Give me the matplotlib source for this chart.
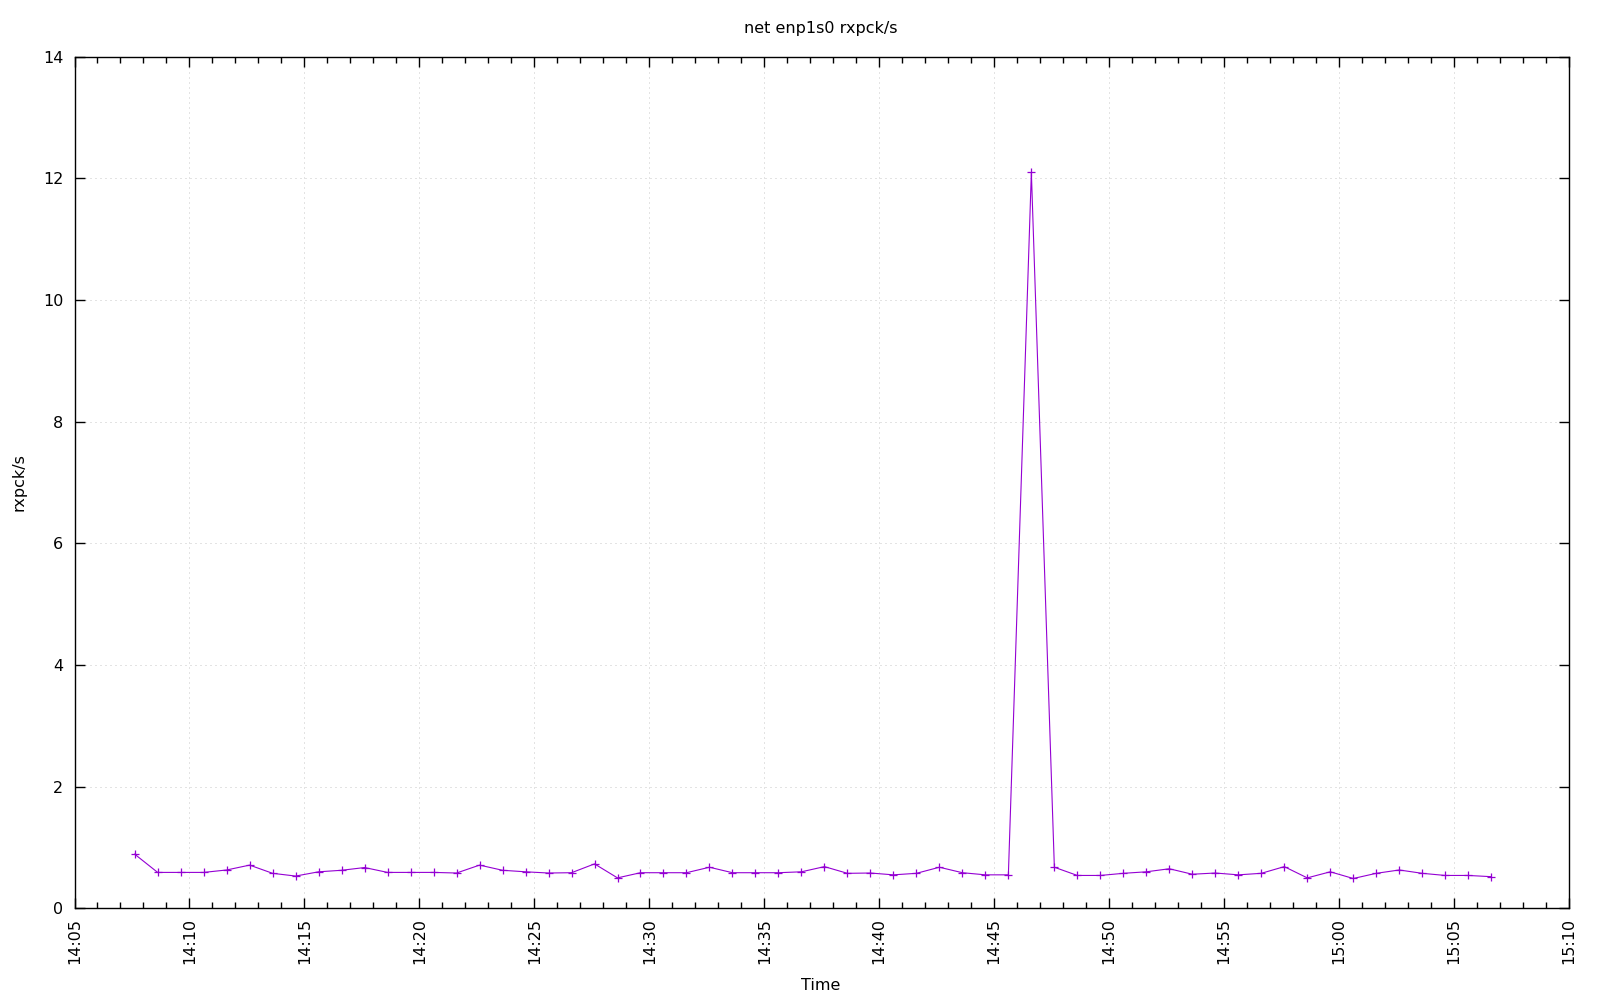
import matplotlib
matplotlib.use("Agg")
import matplotlib.pyplot as plt
import matplotlib.dates as mdates
import numpy as np
import pandas as pd

# ---- data ----
start_time = "2024-01-01 14:07:37"
n_points = 60
rxpck = [0.89, 0.59, 0.59, 0.59, 0.63, 0.71, 0.575, 0.53, 0.60, 0.625,
         0.67, 0.59, 0.59, 0.59, 0.58, 0.71, 0.625, 0.60, 0.58, 0.585,
         0.73, 0.50, 0.585, 0.585, 0.585, 0.675, 0.585, 0.585, 0.585, 0.60,
         0.685, 0.575, 0.58, 0.55, 0.575, 0.675, 0.585, 0.55, 0.55, 12.1,
         0.675, 0.54, 0.54, 0.575, 0.60, 0.65, 0.56, 0.58, 0.55, 0.575,
         0.685, 0.50, 0.60, 0.49, 0.575, 0.63, 0.575, 0.54, 0.54, 0.52]
times = pd.date_range(start_time, periods=n_points, freq="60s")
x_start = pd.Timestamp("2024-01-01 14:05:00")
x_end = pd.Timestamp("2024-01-01 15:10:00")
y_ticks = [0, 2, 4, 6, 8, 10, 12, 14]

title = "net enp1s0 rxpck/s"
xlabel = "Time"
ylabel = "rxpck/s"

plt.rcParams['font.family'] = ['DejaVu Sans']
FS = 11.5

fig = plt.figure(figsize=(16, 10), dpi=100)
ax = fig.add_axes([74.5 / 1600, 1 - 908.3 / 1000, (1569 - 74.5) / 1600, (908.3 - 56.7) / 1000])

ax.plot(times, rxpck, color="#9400D3", lw=0.8, marker="+", markersize=6, mew=0.9)

ax.set_xlim(x_start, x_end)
ax.set_ylim(0, 14)
ax.set_yticks(y_ticks)

ax.xaxis.set_major_locator(mdates.MinuteLocator(byminute=range(0, 60, 5)))
ax.xaxis.set_minor_locator(mdates.MinuteLocator())
ax.xaxis.set_major_formatter(mdates.DateFormatter("%H:%M"))

ax.tick_params(axis="both", which="both", direction="in", top=True, right=True,
               labelsize=FS, colors="black")
ax.tick_params(axis="both", which="major", length=7, width=1)
ax.tick_params(axis="x", which="minor", length=4, width=1)
ax.tick_params(axis="x", which="major", pad=7)
ax.tick_params(axis="y", which="major", pad=8)
for lbl in ax.get_xticklabels():
    lbl.set_rotation(90)
    lbl.set_va("top")
    lbl.set_ha("center")

for sp in ax.spines.values():
    sp.set_linewidth(1.0)
    sp.set_color("black")

ax.grid(True, which="major", color="#c8c8c8", lw=0.72, linestyle=(0, (1, 4)))
ax.set_axisbelow(True)

fig.text(821 / 1600, 1 - 29 / 1000, title, ha="center", va="center", fontsize=FS)
fig.text(821 / 1600, 1 - 986 / 1000, xlabel, ha="center", va="center", fontsize=FS)
fig.text(19 / 1600, 1 - 482.5 / 1000, ylabel, ha="center", va="center", rotation=90, fontsize=FS)

fig.savefig("out.png", dpi=100)
